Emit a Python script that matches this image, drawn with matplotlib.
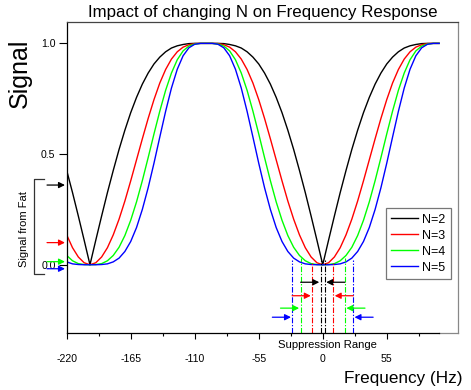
import matplotlib
matplotlib.use("Agg")
import matplotlib.pyplot as plt

plt.rcParams['font.family'] = ['Liberation Sans', 'DejaVu Sans']

# ---------------- data ----------------
freq = list(range(-220, 101, 5))

sig_n2 = [0.426, 0.326, 0.220, 0.111,
          0.000, 0.111, 0.220, 0.326, 0.426, 0.521, 0.608, 0.687, 0.756, 0.816, 0.866,
          0.907, 0.938, 0.962, 0.979, 0.989, 0.995, 0.999, 1.000, 1.000, 1.000,
          1.000, 1.000, 0.999, 0.995, 0.989, 0.979, 0.962, 0.938, 0.907, 0.866,
          0.816, 0.756, 0.687, 0.608, 0.521, 0.426, 0.326, 0.220, 0.111, 0.000,
          0.111, 0.220, 0.326, 0.426, 0.521, 0.608, 0.687, 0.756, 0.816, 0.866,
          0.907, 0.938, 0.962, 0.979, 0.989, 0.995, 0.999, 1.000, 1.000, 1.000]

sig_n3 = [0.135, 0.077, 0.035, 0.009,
          0.000, 0.009, 0.035, 0.077, 0.135, 0.206, 0.288, 0.379, 0.474, 0.569, 0.661,
          0.746, 0.821, 0.882, 0.929, 0.962, 0.983, 0.994, 0.999, 1.000, 1.000,
          1.000, 0.999, 0.994, 0.983, 0.962, 0.929, 0.882, 0.821, 0.746, 0.661,
          0.569, 0.474, 0.379, 0.288, 0.206, 0.135, 0.077, 0.035, 0.009, 0.000,
          0.009, 0.035, 0.077, 0.135, 0.206, 0.288, 0.379, 0.474, 0.569, 0.661,
          0.746, 0.821, 0.882, 0.929, 0.962, 0.983, 0.994, 0.999, 1.000, 1.000]

sig_n4 = [0.042, 0.018, 0.005, 0.001,
          0.000, 0.001, 0.005, 0.018, 0.042, 0.079, 0.132, 0.201, 0.284, 0.380, 0.484,
          0.591, 0.694, 0.788, 0.866, 0.926, 0.966, 0.988, 0.997, 1.000, 1.000,
          1.000, 0.997, 0.988, 0.966, 0.926, 0.866, 0.788, 0.694, 0.591, 0.484,
          0.380, 0.284, 0.201, 0.132, 0.079, 0.042, 0.018, 0.005, 0.001, 0.000,
          0.001, 0.005, 0.018, 0.042, 0.079, 0.132, 0.201, 0.284, 0.380, 0.484,
          0.591, 0.694, 0.788, 0.866, 0.926, 0.966, 0.988, 0.997, 1.000, 1.000]

sig_n5 = [0.013, 0.004, 0.001, 0.000,
          0.000, 0.000, 0.001, 0.004, 0.013, 0.030, 0.060, 0.105, 0.168, 0.250, 0.348,
          0.459, 0.577, 0.693, 0.798, 0.883, 0.944, 0.980, 0.996, 1.000, 1.000,
          1.000, 0.996, 0.980, 0.944, 0.883, 0.798, 0.693, 0.577, 0.459, 0.348,
          0.250, 0.168, 0.105, 0.060, 0.030, 0.013, 0.004, 0.001, 0.000, 0.000,
          0.000, 0.001, 0.004, 0.013, 0.030, 0.060, 0.105, 0.168, 0.250, 0.348,
          0.459, 0.577, 0.693, 0.798, 0.883, 0.944, 0.980, 0.996, 1.000, 1.000]

series = [sig_n2, sig_n3, sig_n4, sig_n5]
labels = ["N=2", "N=3", "N=4", "N=5"]
colors = ["#000000", "#FF0000", "#00FF00", "#0000FF"]

# suppression range half-widths (Hz) and arrow rows
supp_half = [1.7, 9.0, 19.0, 26.0]
supp_top = [0.02, 0.01, 0.03, 0.02]
arrow_rows = [-0.079, -0.140, -0.196, -0.237]
arrow_len = 16.0

# fat-signal arrows on left axis
fat_arrow_y = [0.360, 0.100, 0.014, -0.018]

xticks = [-220, -165, -110, -55, 0, 55]
xtick_labels = ["-220", "-165", "-110", "-55", "0", "55"]
xminor = [-192.5, -137.5, -82.5, -27.5, 27.5, 82.5]
yticks = [0.0, 0.5, 1.0]
ytick_labels = ["0.0", "0.5", "1.0"]

# ---------------- figure ----------------
fig = plt.figure(figsize=(4.71, 3.90), dpi=100)
ax = fig.add_axes([0.1416, 0.1469, 0.8315, 0.7975])
XMIN, XMAX = -220, 116.5
YMIN, YMAX = -0.307, 1.098
ax.set_xlim(XMIN, XMAX)
ax.set_ylim(YMIN, YMAX)

for s, lab, c in zip(series, labels, colors):
    ax.plot(freq, s, color=c, lw=1.0, label=lab)

# suppression range lines + arrows
for h, top, yr, c in zip(supp_half, supp_top, arrow_rows, colors):
    for sgn in (-1, 1):
        ax.plot([sgn * h, sgn * h], [YMIN, top], color=c, lw=0.8,
                dashes=(5, 1.5, 1.2, 1.5))
        ax.annotate("", xy=(sgn * (h + 1.3), yr),
                    xytext=(sgn * (h + 1.3 + arrow_len), yr),
                    arrowprops=dict(arrowstyle="-|>", color=c, lw=0.9,
                                    mutation_scale=9, shrinkA=0, shrinkB=0))

ax.text(4.0, -0.362, "Suppression Range", fontsize=8.1, ha="center",
        va="center", clip_on=False)

# fat arrows + bracket + label
for yy, c in zip(fat_arrow_y, colors):
    ax.annotate("", xy=(-221.5, yy), xytext=(-236.9, yy),
                arrowprops=dict(arrowstyle="-|>", color=c, lw=0.9,
                                mutation_scale=9, shrinkA=0, shrinkB=0),
                annotation_clip=False)
ax.plot([-239.3, -248.5, -248.5, -239.3], [0.386, 0.386, -0.043, -0.043],
        color="#333333", lw=0.9, clip_on=False)
ax.text(-256.7, 0.162, "Signal from Fat", rotation=90, fontsize=8,
        ha="center", va="center", clip_on=False)

# axes styling
ax.set_xticks(xticks)
ax.set_xticklabels(xtick_labels)
ax.set_xticks(xminor, minor=True)
ax.set_yticks(yticks)
ax.set_yticklabels(ytick_labels)
ax.tick_params(axis="x", which="major", direction="out", length=4, width=0.8,
               labelsize=7.6, pad=11)
ax.tick_params(axis="x", which="minor", direction="out", length=2.5, width=0.8)
ax.tick_params(axis="y", which="major", direction="out", length=6, width=0.8,
               labelsize=7.6, pad=2)
ax.spines["left"].set_color("black")
ax.spines["left"].set_linewidth(0.9)
ax.spines["top"].set_color("#444444")
ax.spines["top"].set_linewidth(0.9)
ax.spines["right"].set_color("#888888")
ax.spines["right"].set_linewidth(0.9)
ax.spines["bottom"].set_color("black")
ax.spines["bottom"].set_linewidth(0.9)
ax.spines["bottom"].set_bounds(-220, 100)
ax.axhline(YMIN, xmin=(100 - XMIN) / (XMAX - XMIN), xmax=1, color="#888888",
           lw=0.9, clip_on=False)

leg = ax.legend(loc="upper left", bbox_to_anchor=(385.5 / 471, 1 - 208.3 / 390),
                bbox_transform=fig.transFigure, fontsize=9, frameon=True,
                fancybox=False, borderpad=0.42, handlelength=2.2,
                handletextpad=0.3, labelspacing=0.32, borderaxespad=0)
leg.get_frame().set_edgecolor("#555555")
leg.get_frame().set_linewidth(0.9)

fig.text(262.5 / 471, 1 - 12 / 390, "Impact of changing N on Frequency Response",
         fontsize=12.2, ha="center", va="center")
fig.text(20 / 471, 1 - 73 / 390, "Signal", fontsize=18, rotation=90,
         ha="center", va="center")
fig.text(462 / 471, 1 - 378 / 390, "Frequency (Hz)", fontsize=12.3,
         ha="right", va="center")

fig.savefig("out.png", dpi=100)
